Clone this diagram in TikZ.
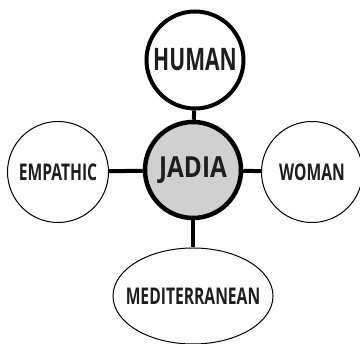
\documentclass[tikz,border=0pt]{standalone}
\usepackage{fontspec}
\setmainfont{Open Sans}
\newfontfamily\condfont{Open Sans}[FakeStretch=0.68]
\newfontfamily\hubfont{Open Sans}[FakeStretch=0.84]
\usetikzlibrary{shapes.geometric}

\definecolor{centregray}{HTML}{D0D0D0}
\definecolor{inkblack}{HTML}{1E1E1E}

\tikzset{
	hub/.style={circle,draw=black,line width=4.5pt,fill=centregray,minimum size=96pt,inner sep=0pt,
		text=inkblack,font=\hubfont\bfseries\fontsize{29}{29}\selectfont},
	bigword/.style={circle,draw=black,line width=4pt,fill=white,minimum size=97pt,inner sep=0pt,
		text=inkblack,font=\condfont\bfseries\fontsize{31}{31}\selectfont},
	word/.style={circle,draw=black,line width=1pt,fill=white,minimum size=101pt,inner sep=0pt,
		text=inkblack,font=\condfont\bfseries\fontsize{23}{23}\selectfont},
	link/.style={draw=black,line width=4pt}
}

\begin{document}
\begin{tikzpicture}[x=1pt,y=-1pt]
		\useasboundingbox[fill=white] (0,0) rectangle (360,344);
		
		\node[hub] (jadia) at (193,170) {JADIA};
		\node[bigword] (human) at (195,60) {HUMAN};
		\node[word] (empathic) at (58,172) {EMPATHIC};
		\node[word] (woman) at (312,172) {WOMAN};
		\node[word,ellipse,minimum width=160pt,minimum height=96pt] (medit) at (193,296)
			{\makebox[0pt]{MEDITERRANEAN}};
		
		\path[link] (jadia) -- (human);
		\path[link] (jadia) -- (empathic);
		\path[link] (jadia) -- (woman);
		\path[link] (jadia) -- (medit);
	\end{tikzpicture}
\end{document}
